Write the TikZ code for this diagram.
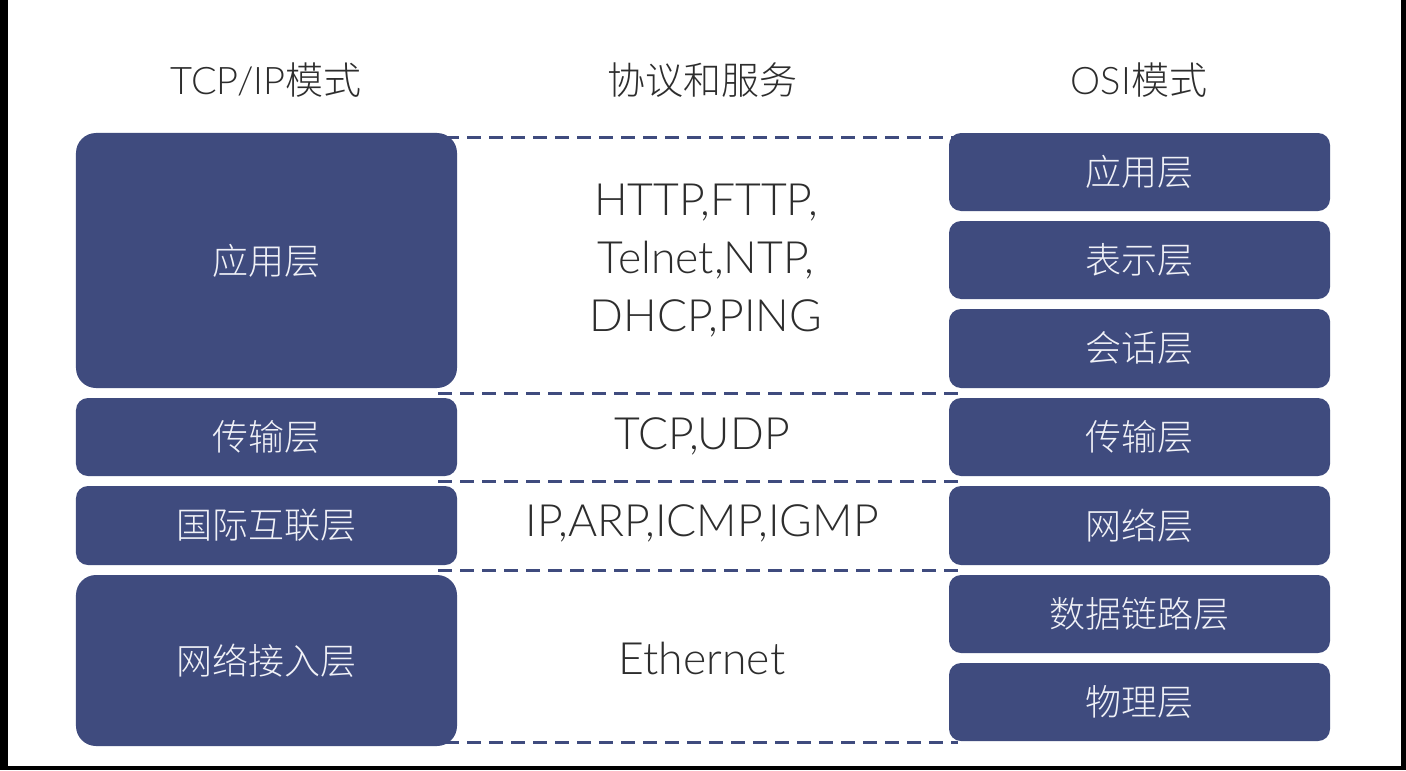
\documentclass[tikz,border=0pt]{standalone}
\usepackage{fontspec}
\IfFontExistsTF{Noto Sans CJK SC Light}
  {\setmainfont{Noto Sans CJK SC Light}}
  {\IfFontExistsTF{Noto Sans CJK SC DemiLight}
    {\setmainfont{Noto Sans CJK SC DemiLight}}
    {\setmainfont{Noto Sans CJK SC}}}
\IfFontExistsTF{Lato Light}
  {\newfontfamily\latinfont{Lato Light}}
  {\IfFontExistsTF{Fira Sans Light}
    {\newfontfamily\latinfont{Fira Sans Light}}
    {\newfontfamily\latinfont{Liberation Sans}}}
\definecolor{boxblue}{RGB}{63,75,126}
\definecolor{txtgray}{RGB}{45,45,45}
\definecolor{boxtxt}{RGB}{240,241,247}
\begin{document}
\begin{tikzpicture}[x=1bp,y=-1bp,
  lbox/.style={fill=boxblue,draw=none,inner sep=0pt,minimum width=381bp,
    text=boxtxt,font=\fontsize{36bp}{40bp}\selectfont},
  big/.style={rounded corners=20bp},
  small/.style={rounded corners=12bp},
  hdr/.style={text=txtgray,font=\fontsize{38bp}{42bp}\selectfont,inner sep=0pt},
  proto/.style={text=txtgray,font=\fontsize{44.5bp}{58bp}\selectfont\latinfont,align=center,inner sep=0pt},
  dashline/.style={draw=boxblue,line width=3bp,dash pattern=on 14bp off 8bp}]
\useasboundingbox (0,0) rectangle (1406,770);
\fill[black] (0,0) rectangle (1406,770);
\fill[white] (8,0) rectangle (1401,766);
% dashed separators
\coordinate (a0) at (445,137); \coordinate (b0) at (955,137);
\coordinate (a1) at (438,393); \coordinate (b1) at (958,393);
\coordinate (a2) at (438,481); \coordinate (b2) at (958,481);
\coordinate (a3) at (438,570); \coordinate (b3) at (958,570);
\coordinate (a4) at (445,742); \coordinate (b4) at (958,742);
\foreach \i in {0,...,4} \draw[dashline] (a\i) -- (b\i);
% headers
\node[hdr] (h1) at (266,80) {{\latinfont TCP/IP}模式};
\node[hdr] (h2) at (702,80) {协议和服务};
\node[hdr] (h3) at (1139,80) {{\latinfont OSI}模式};
% left boxes
\node[lbox,big,minimum height=255bp] (t1) at (266.5,260.5) {应用层};
\node[lbox,small,minimum height=78bp] (t2) at (266.5,437) {传输层};
\node[lbox,small,minimum height=79bp] (t3) at (266.5,525.5) {国际互联层};
\node[lbox,big,minimum height=171bp] (t4) at (266.5,660.5) {网络接入层};
% right boxes
\node[lbox,small,minimum height=78bp] (o1) at (1139.5,172) {应用层};
\node[lbox,small,minimum height=78bp] (o2) at (1139.5,260) {表示层};
\node[lbox,small,minimum height=79bp] (o3) at (1139.5,348.5) {会话层};
\node[lbox,small,minimum height=78bp] (o4) at (1139.5,437) {传输层};
\node[lbox,small,minimum height=79bp] (o5) at (1139.5,525.5) {网络层};
\node[lbox,small,minimum height=78bp] (o6) at (1139.5,614) {数据链路层};
\node[lbox,small,minimum height=78bp] (o7) at (1139.5,702) {物理层};
% protocols
\node[proto] (p1) at (706,261) {HTTP,FTTP,\\Telnet,NTP,\\DHCP,PING};
\node[proto] (p2) at (702,436) {TCP,UDP};
\node[proto] (p3) at (702,523) {IP,ARP,ICMP,IGMP};
\node[proto] (p4) at (702,658) {Ethernet};
\end{tikzpicture}
\end{document}
